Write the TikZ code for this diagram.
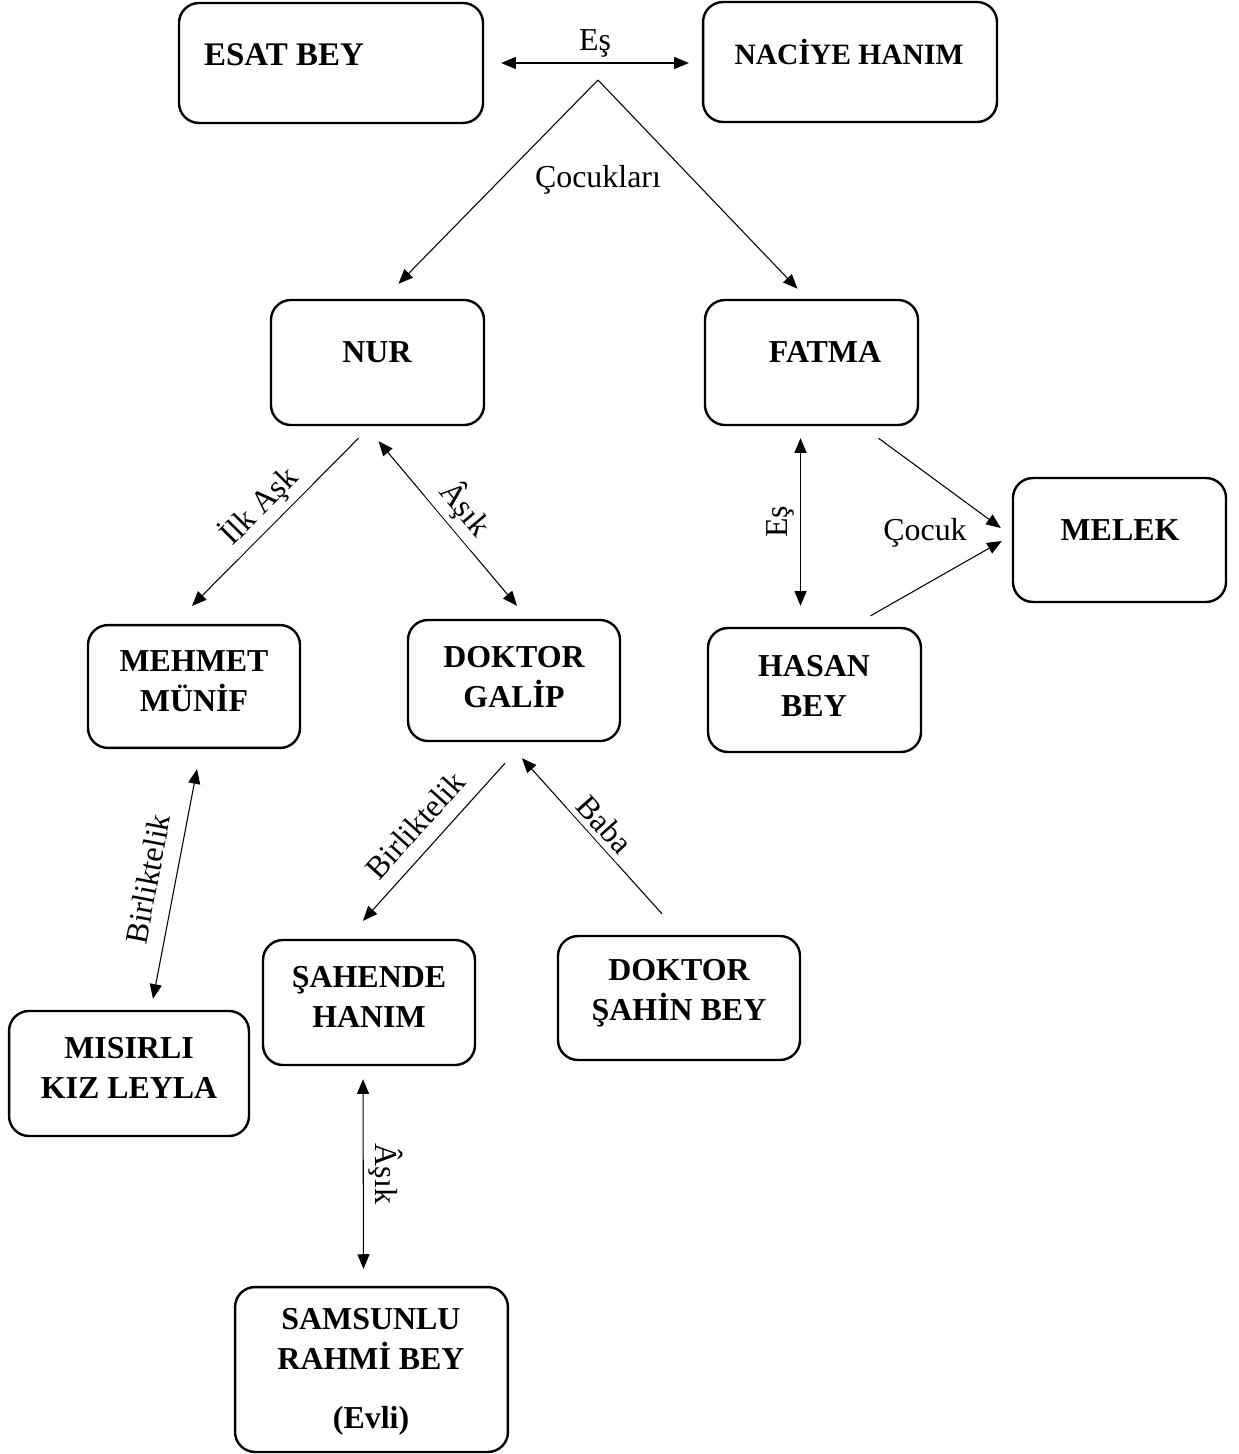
\documentclass[tikz,border=0pt]{standalone}
\usepackage{fontspec}
\setmainfont{Liberation Serif}
\usetikzlibrary{arrows.meta,calc}

\begin{document}
\begin{tikzpicture}[x=0.376pt, y=-0.376pt, >={Triangle[length=5.5pt,width=4.5pt]}, font=\fontsize{12}{15}\selectfont]
        \tikzstyle{box}=[draw, line width=0.9pt, rounded corners=7.5pt]
        \tikzstyle{person}=[font=\fontsize{12}{15}\selectfont\bfseries, align=center, inner sep=0pt]
        \tikzstyle{lbl}=[fill=white, inner sep=2pt]
        \tikzstyle{link}=[thin]
        \useasboundingbox (0,0) rectangle (1239,1454);
        % kutular
        \node [box, minimum width=114.3pt, minimum height=45.1pt] (esat) at (331,63) {};
        \node [box, minimum width=110.5pt, minimum height=45.1pt] (naciye) at (850,62) {};
        \node [box, minimum width=80.1pt, minimum height=47pt] (nur) at (377.5,362.5) {};
        \node [box, minimum width=80.1pt, minimum height=47pt] (fatma) at (811.5,362.5) {};
        \node [box, minimum width=80.1pt, minimum height=46.6pt] (melek) at (1119.5,540) {};
        \node [box, minimum width=79.7pt, minimum height=46.2pt] (mehmet) at (194,686.5) {};
        \node [box, minimum width=79.7pt, minimum height=45.5pt] (galip) at (514,680.5) {};
        \node [box, minimum width=80.1pt, minimum height=46.6pt] (hasan) at (814.5,690) {};
        \node [box, minimum width=79.7pt, minimum height=47pt] (sahende) at (369,1002.5) {};
        \node [box, minimum width=91pt, minimum height=46.6pt] (sahin) at (679,998) {};
        \node [box, minimum width=90.2pt, minimum height=47pt] (misirli) at (129,1073.5) {};
        \node [box, minimum width=102.6pt, minimum height=62pt] (samsun) at (371.5,1369.5) {};
        % isimler
        \node [person, font=\fontsize{12.4}{15}\selectfont\bfseries] (esatt) at (284,55) {ESAT BEY};
        \node [person, font=\fontsize{11.1}{14}\selectfont\bfseries] (naciyet) at (849,52) {NACİYE HANIM};
        \node [person] (nurt) at (377,352) {NUR};
        \node [person] (fatmat) at (825,352) {FATMA};
        \node [person] (melekt) at (1120,530) {MELEK};
        \node [person] (mehmett) at (194,681) {MEHMET\\MÜNİF};
        \node [person] (galipt) at (514,677) {DOKTOR\\GALİP};
        \node [person] (hasant) at (814,686) {HASAN\\BEY};
        \node [person] (sahendet) at (369,997) {ŞAHENDE\\HANIM};
        \node [person] (sahint) at (679,993) {DOKTOR\\ŞAHİN BEY};
        \node [person] (misirlit) at (129,1068) {MISIRLI\\KIZ LEYLA};
        \node [person] (samsunt) at (371,1372) {SAMSUNLU\\RAHMİ BEY\\[7pt](Evli)};
        % baglar
        \coordinate (apex) at (598,80);
        \draw [link,<->] ($(esat.east)+(17,0)$) -- node[lbl,above] (es1) {Eş} ($(naciye.west)+(-13,1)$);
        \draw [link,->] (apex) -- ($(nur.north)+(21,-15)$);
        \draw [link,->] (apex) -- ($(fatma.north)+(-14,-10)$);
        \node [lbl] (cocuklari) at (598,180) {Çocukları};
        \draw [link,->] ($(nur.south)+(-19,12)$) -- node[lbl,sloped,above] (ilkask) {İlk Aşk} ($(mehmet.north)+(-2,-18)$);
        \draw [link,<->] ($(nur.south)+(1,15)$) -- node[lbl,sloped,above] (asik1) {Âşık} ($(galip.north)+(3,-13)$);
        \draw [link,<->] ($(fatma.south)+(-11,12)$) -- node[lbl,rotate=90,anchor=south] (es2) {Eş} ($(hasan.north)+(-14,-21)$);
        \draw [link,->] ($(fatma.south)+(67,12)$) -- ($(melek.west)+(-11,-12)$);
        \draw [link,->] ($(hasan.north)+(56,-11)$) -- ($(melek.west)+(-10,1)$);
        \node [lbl] (cocuk) at (925,533) {Çocuk};
        \draw [link,<->] ($(misirli.north)+(24,-11)$) -- node[lbl,sloped,above=4pt] (birl1) {Birliktelik} ($(mehmet.south)+(3,20)$);
        \draw [link,->] ($(galip.south)+(-9,21)$) -- node[lbl,sloped,above=3pt] (birl2) {Birliktelik} ($(sahende.north)+(-6,-18)$);
        \draw [link,->] ($(sahin.north)+(-17,-21)$) -- node[lbl,sloped,above,pos=0.5] (baba) {Baba} ($(galip.south)+(8,16)$);
        \draw [link,<->] ($(sahende.south)+(-6,13)$) -- node[lbl,rotate=-90,anchor=south] (asik2) {Âşık} ($(samsun.north)+(-8,-17)$);
\end{tikzpicture}
\end{document}
